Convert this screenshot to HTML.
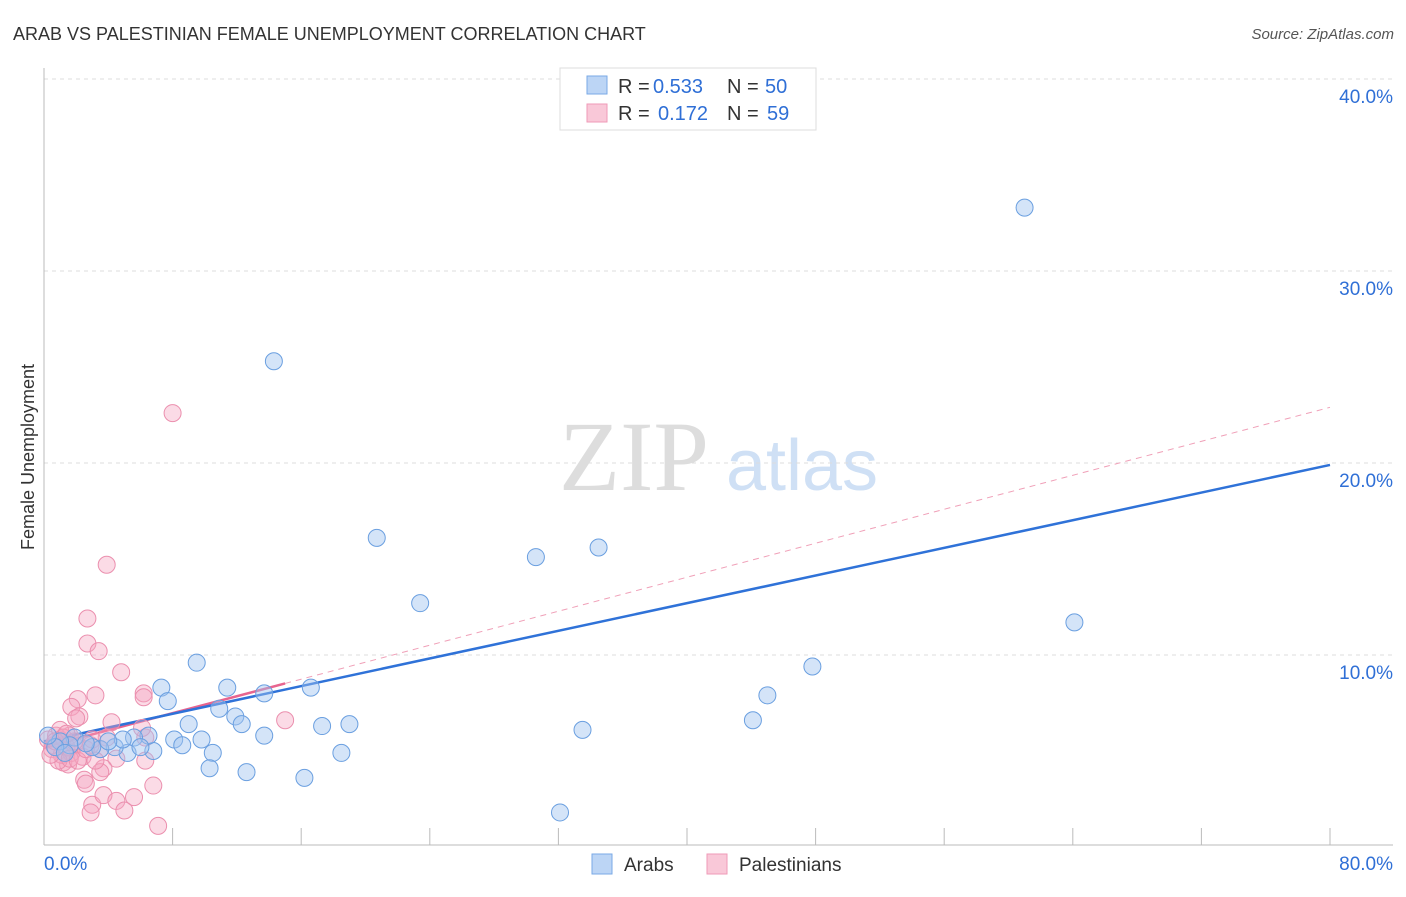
<!DOCTYPE html>
<html><head><meta charset="utf-8"><style>
body{margin:0;background:#fff;font-family:"Liberation Sans",sans-serif;}
</style></head><body>
<svg id="chart" width="1406" height="892" xmlns="http://www.w3.org/2000/svg" font-family="Liberation Sans, sans-serif">
<text x="13" y="40" font-size="18" fill="#333">ARAB VS PALESTINIAN FEMALE UNEMPLOYMENT CORRELATION CHART</text>
<text x="1394" y="39" font-size="15" fill="#555" text-anchor="end" font-style="italic">Source: ZipAtlas.com</text>
<text x="34" y="457" font-size="18" fill="#333" text-anchor="middle" transform="rotate(-90 34 457)">Female Unemployment</text>
<g>
<text x="634" y="490" font-size="100" fill="#ddd" text-anchor="middle" style="font-family:'Liberation Serif',serif">ZIP</text>
<text x="802" y="490" font-size="72" fill="#cfe0f5" text-anchor="middle">atlas</text>
</g>
<g id="grid"></g><g id="axes"></g><g id="lines"></g><g id="pts"></g>
<g font-size="20">
<rect x="560" y="68" width="256" height="62" fill="#fff" stroke="#ddd"/>
<rect x="587" y="76" width="20" height="18" fill="#bcd5f5" stroke="#7aa9e6"/>
<rect x="587" y="104" width="20" height="18" fill="#f9c8d8" stroke="#ef9ab7"/>
<text x="618" y="93" fill="#333">R =</text><text x="653" y="93" fill="#2f6fd6">0.533</text>
<text x="727" y="93" fill="#333">N =</text><text x="765" y="93" fill="#2f6fd6">50</text>
<text x="618" y="120" fill="#333">R =</text><text x="658" y="120" fill="#2f6fd6">0.172</text>
<text x="727" y="120" fill="#333">N =</text><text x="767" y="120" fill="#2f6fd6">59</text>
</g>
<g>
<rect x="592" y="854" width="20" height="20" fill="#bcd5f5" stroke="#7aa9e6"/>
<text x="624" y="871" font-size="19" fill="#333">Arabs</text>
<rect x="707" y="854" width="20" height="20" fill="#f9c8d8" stroke="#ef9ab7"/>
<text x="739" y="871" font-size="19" fill="#333">Palestinians</text>
</g>
</svg>
<script>
const yTicks=[10,20,30,40];
const yTickLabels=["10.0%","20.0%","30.0%","40.0%"];
const xTickLabels=["0.0%","80.0%"];
const arabX=[61.0,14.3,20.7,30.6,34.5,23.4,64.1,47.8,9.5,7.3,7.7,11.4,13.7,16.6,10.9,11.9,12.3,9.0,17.3,19.0,13.7,8.1,9.8,8.6,10.5,6.8,45.0,44.1,33.5,18.5,10.3,12.6,16.2,32.1,6.5,5.6,5.2,6.0,4.4,4.9,3.5,3.0,4.0,1.9,1.6,1.0,0.7,0.25,1.3,2.6];
const arabY=[33.3,25.3,16.1,15.1,15.6,12.7,11.7,9.4,9.6,8.3,7.6,8.3,8.0,8.3,7.2,6.8,6.4,6.4,6.3,6.4,5.8,5.6,5.6,5.3,4.9,5.0,7.9,6.6,6.1,4.9,4.1,3.9,3.6,1.8,5.8,5.7,4.9,5.2,5.2,5.6,5.1,5.2,5.5,5.7,5.3,5.5,5.2,5.8,4.9,5.4];
const palX=[8.0,3.9,2.7,2.7,3.4,4.8,3.2,6.2,6.2,2.1,1.7,2.2,2.0,4.2,6.3,3.9,1.6,1.9,0.6,1.0,15.0,6.1,3.5,4.5,6.3,2.4,1.2,1.5,2.5,2.6,3.7,3.5,3.0,3.7,4.5,5.6,6.8,2.9,5.0,7.1,0.25,0.5,0.75,1.1,1.4,1.7,0.9,0.4,2.9,3.2,1.0,1.2,1.6,2.1,2.6,3.0,0.7,1.9,1.4];
const palY=[22.6,14.7,11.9,10.6,10.2,9.1,7.9,8.0,7.8,7.7,7.3,6.8,6.7,6.5,5.7,5.7,5.8,5.3,5.3,5.6,6.6,6.2,5.1,4.6,4.5,4.7,4.4,4.3,3.5,3.3,4.1,3.9,2.2,2.7,2.4,2.6,3.2,1.8,1.9,1.1,5.6,5.1,5.8,4.8,5.2,4.9,4.5,4.8,5.3,4.5,6.1,5.7,4.6,4.5,5.1,5.6,5.5,5.5,5.9];
const arabTrend=[5.5,19.9];
const palTrend=[5.2,22.9];
const palSolidEnd=15;
const NS="http://www.w3.org/2000/svg";
const sx=v=>44+v*16.075, sy=v=>847-v*19.2;
function mk(t,a,p){const e=document.createElementNS(NS,t);for(const k in a)e.setAttribute(k,a[k]);document.getElementById(p).appendChild(e);return e;}
yTicks.forEach((t,i)=>{
 const l=mk('line',{x1:44,x2:1393,y1:sy(t),y2:sy(t),stroke:'#ddd','stroke-dasharray':'4,4'},'grid');
 
 
 const tx=mk('text',{x:1393,y:sy(t)+24,'font-size':19,fill:'#2f6fd6','text-anchor':'end'},'axes');
 tx.textContent=yTickLabels[i];
 
 
});
const ax=mk('line',{x1:44,x2:44,y1:68,y2:845,stroke:'#bbb'},'axes');


const bx=mk('line',{x1:44,x2:1393,y1:845,y2:845,stroke:'#bbb'},'axes');


for(let i=1;i<=10;i++){const t=mk('line',{x1:sx(i*8),x2:sx(i*8),y1:828,y2:845,stroke:'#bbb'},'axes');
 
 }
[[0,'start',44],[80,'end',1393]].forEach((d,i)=>{const t=mk('text',{x:d[2],y:870,'font-size':19,fill:'#2f6fd6','text-anchor':d[1]},'axes');t.textContent=xTickLabels[i];
 
 });
const ly=x=>palTrend[0]+(palTrend[1]-palTrend[0])*x/80;
const pd=mk('line',{x1:sx(palSolidEnd),y1:sy(ly(palSolidEnd)),x2:sx(80),y2:sy(palTrend[1]),stroke:'#f0a0b8','stroke-dasharray':'6,5','stroke-width':1},'lines');


const ps=mk('line',{x1:sx(0),y1:sy(palTrend[0]),x2:sx(palSolidEnd),y2:sy(ly(palSolidEnd)),stroke:'#e8648f','stroke-width':2.5},'lines');


const bl=mk('line',{x1:sx(0),y1:sy(arabTrend[0]),x2:sx(80),y2:sy(arabTrend[1]),stroke:'#2f72d8','stroke-width':2.5},'lines');


palX.forEach((x,i)=>{const c=mk('circle',{cx:sx(x),cy:sy(palY[i]),r:8.5,fill:'rgba(245,165,192,0.4)',stroke:'#eb8fae','stroke-width':1},'pts');
 
 });
arabX.forEach((x,i)=>{const c=mk('circle',{cx:sx(x),cy:sy(arabY[i]),r:8.5,fill:'rgba(160,196,240,0.45)',stroke:'#6a9fe0','stroke-width':1},'pts');
 
 });
</script>
</body></html>
